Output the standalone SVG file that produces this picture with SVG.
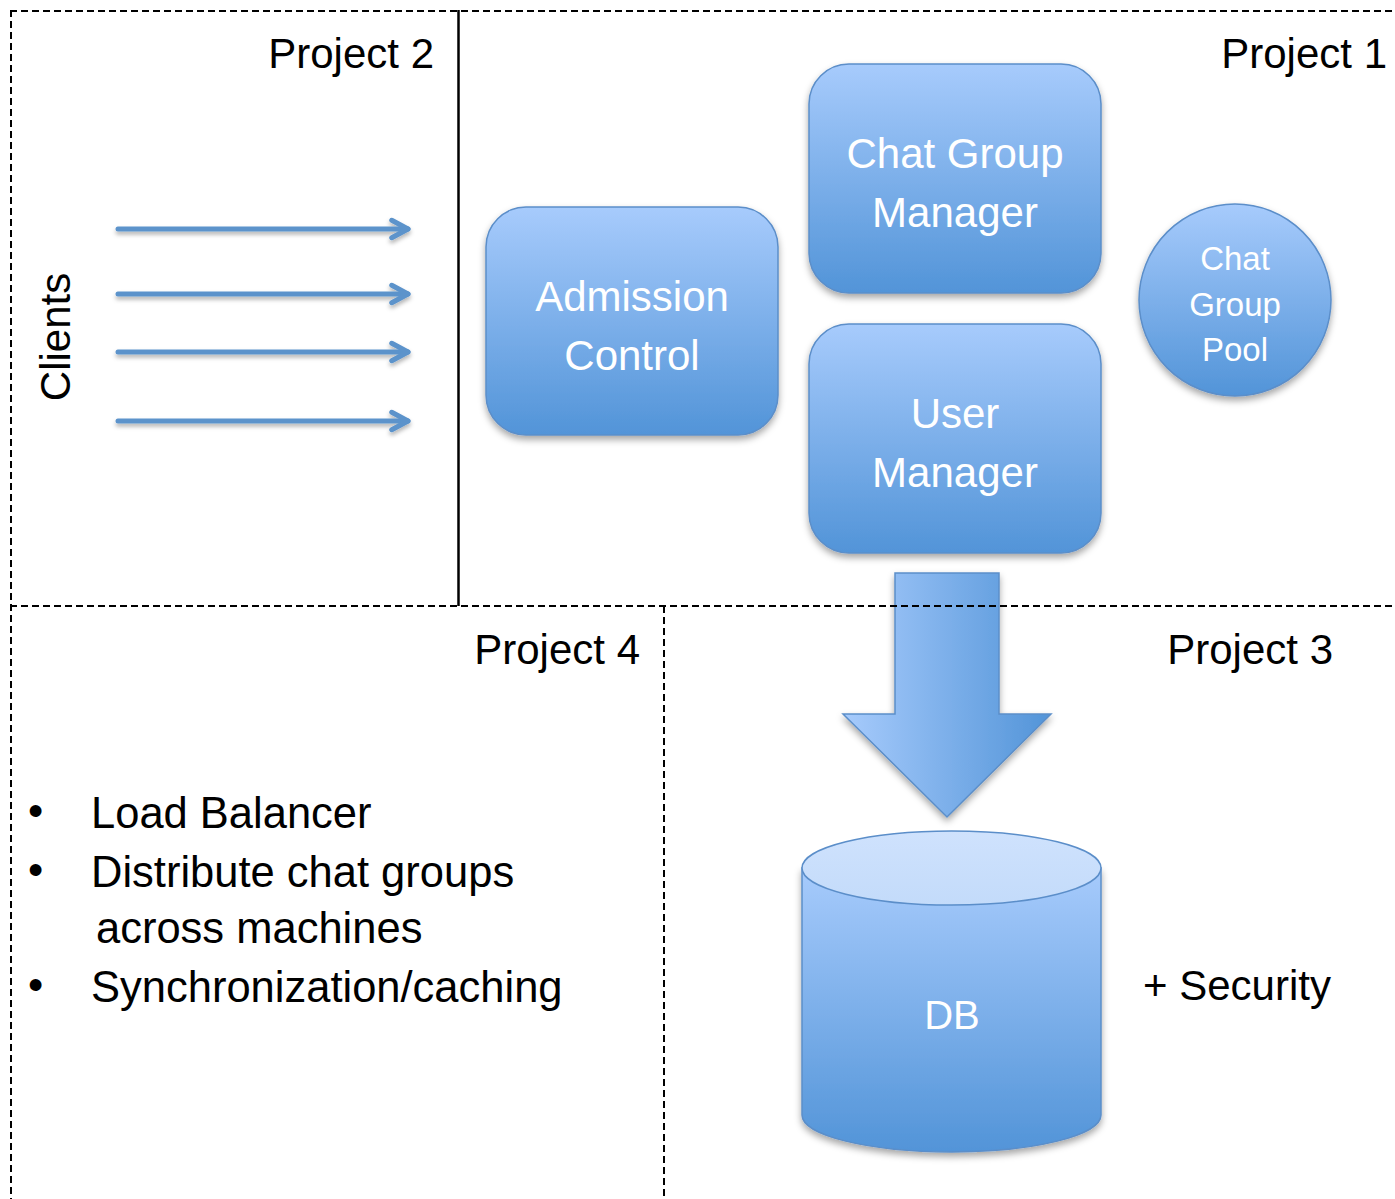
<svg xmlns="http://www.w3.org/2000/svg" width="1395" height="1199" viewBox="0 0 1395 1199">
  <style>
    .lbl { font-family: "Liberation Sans", Arial, sans-serif; fill: #000; }
    .node-text { font-family: "Liberation Sans", Arial, sans-serif; fill: #fff; text-anchor: middle; }
    .divider { stroke: #000; stroke-width: 2; fill: none; stroke-dasharray: 7 4; }
    .client-arrow { stroke: #5b93cb; stroke-width: 5; fill: none; stroke-linecap: round; stroke-linejoin: round; }
    .box { stroke: #5b8ec9; stroke-width: 1.5; fill: url(#vgrad); filter: url(#shadow); }
  </style>
  <defs>
    <linearGradient id="vgrad" x1="0" y1="0" x2="0" y2="1">
      <stop offset="0" stop-color="#a7cbfc"/>
      <stop offset="1" stop-color="#5294d8"/>
    </linearGradient>
    <linearGradient id="hgrad" x1="0" y1="0" x2="1" y2="0">
      <stop offset="0" stop-color="#a7cbfc"/>
      <stop offset="1" stop-color="#5294d8"/>
    </linearGradient>
    <linearGradient id="topgrad" x1="0" y1="0" x2="0" y2="1">
      <stop offset="0" stop-color="#cfe2fd"/>
      <stop offset="1" stop-color="#c3dbfa"/>
    </linearGradient>
    <filter id="shadow" x="-20%" y="-20%" width="140%" height="150%">
      <feDropShadow dx="0" dy="4" stdDeviation="3.5" flood-color="#000" flood-opacity="0.35"/>
    </filter>
    <filter id="lineshadow" x="-10%" y="-100%" width="120%" height="400%">
      <feDropShadow dx="0" dy="3" stdDeviation="2" flood-color="#000" flood-opacity="0.3"/>
    </filter>
    <marker id="chevron" viewBox="0 0 20 20" refX="17" refY="10" markerWidth="5" markerHeight="5" markerUnits="strokeWidth" orient="auto">
      <path d="M4,3 L17,10 L4,17" fill="none" stroke="#5b93cb" stroke-width="4" stroke-linecap="round" stroke-linejoin="round"/>
    </marker>
  </defs>

  <rect width="1395" height="1199" fill="#fff"/>

  <!-- connectors (drawn under the region dividers) -->
  <g id="connectors">
    <g filter="url(#lineshadow)">
      <line class="client-arrow" x1="118" y1="229" x2="408" y2="229" marker-end="url(#chevron)"/>
      <line class="client-arrow" x1="118" y1="294" x2="408" y2="294" marker-end="url(#chevron)"/>
      <line class="client-arrow" x1="118" y1="352" x2="408" y2="352" marker-end="url(#chevron)"/>
      <line class="client-arrow" x1="118" y1="421" x2="408" y2="421" marker-end="url(#chevron)"/>
    </g>
    <path id="db-arrow" d="M895,573 L999,573 L999,714 L1051,714 L947,817 L843,714 L895,714 Z" fill="url(#hgrad)" stroke="#5b8ec9" stroke-width="1.5" filter="url(#shadow)"/>
  </g>

  <!-- region dividers -->
  <g id="dividers">
    <line class="divider" x1="10" y1="11" x2="1395" y2="11"/>
    <line class="divider" x1="11" y1="10" x2="11" y2="1199"/>
    <line x1="458.5" y1="10" x2="458.5" y2="606" stroke="#000" stroke-width="2.5"/>
    <line class="divider" x1="10" y1="606" x2="1395" y2="606"/>
    <line class="divider" x1="664" y1="606" x2="664" y2="1199" stroke-width="2.5" stroke-dasharray="8 4"/>
  </g>

  <!-- region titles -->
  <g id="titles" class="lbl" font-size="42" text-anchor="end">
    <text x="434" y="68">Project 2</text>
    <text x="1387" y="68">Project 1</text>
    <text x="640" y="664">Project 4</text>
    <text x="1333" y="664">Project 3</text>
  </g>

  <!-- clients -->
  <g id="clients">
    <text class="lbl" font-size="42" text-anchor="middle" transform="translate(70,337) rotate(-90)">Clients</text>
  </g>

  <!-- Admission Control -->
  <g id="admission-control">
    <rect class="box" x="486" y="207" width="292" height="228" rx="40"/>
    <text class="node-text" font-size="42" x="632" y="311">Admission</text>
    <text class="node-text" font-size="42" x="632" y="370">Control</text>
  </g>

  <!-- Chat Group Manager -->
  <g id="chat-group-manager">
    <rect class="box" x="809" y="64" width="292" height="229" rx="40"/>
    <text class="node-text" font-size="42" x="955" y="168">Chat Group</text>
    <text class="node-text" font-size="42" x="955" y="227">Manager</text>
  </g>

  <!-- User Manager -->
  <g id="user-manager">
    <rect class="box" x="809" y="324" width="292" height="229" rx="40"/>
    <text class="node-text" font-size="42" x="955" y="428">User</text>
    <text class="node-text" font-size="42" x="955" y="487">Manager</text>
  </g>

  <!-- Chat Group Pool -->
  <g id="chat-group-pool">
    <circle class="box" cx="1235" cy="300" r="96"/>
    <text class="node-text" font-size="33" x="1235" y="270">Chat</text>
    <text class="node-text" font-size="33" x="1235" y="316">Group</text>
    <text class="node-text" font-size="33" x="1235" y="361">Pool</text>
  </g>

  <!-- DB -->
  <g id="db">
    <path d="M802,868 L802,1115 A149.5,37 0 0 0 1101,1115 L1101,868 Z" fill="url(#vgrad)" stroke="#5b8ec9" stroke-width="1.5" filter="url(#shadow)"/>
    <ellipse cx="951.5" cy="868" rx="149.5" ry="37" fill="url(#topgrad)" stroke="#5b8ec9" stroke-width="1.5"/>
    <text class="node-text" font-size="40" x="952" y="1029">DB</text>
  </g>

  <!-- security note -->
  <g id="security">
    <text class="lbl" font-size="42" x="1143" y="1000">+ Security</text>
  </g>

  <!-- Project 4 bullet list -->
  <g id="project4-list" class="lbl" font-size="43.5">
    <text x="28" y="826">•</text>
    <text x="91" y="828">Load Balancer</text>
    <text x="28" y="885">•</text>
    <text x="91" y="887">Distribute chat groups</text>
    <text x="96" y="943">across machines</text>
    <text x="28" y="1000">•</text>
    <text x="91" y="1002">Synchronization/caching</text>
  </g>
</svg>
